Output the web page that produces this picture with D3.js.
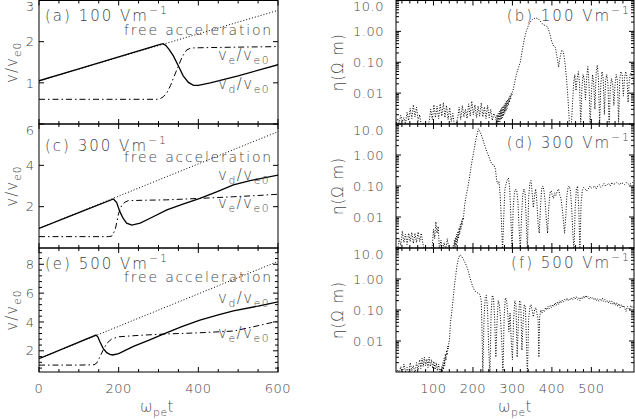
<!DOCTYPE html>
<html><head><meta charset="utf-8">
<script src="https://cdn.jsdelivr.net/npm/d3@7"></script>
<style>
body{margin:0;background:#fff}
svg{display:block}
text{font-family:"DejaVu Sans",sans-serif;fill:#474747;font-weight:300}
</style></head>
<body><svg id="c" width="635" height="419"></svg>
<script>
// ---------------- DATA ----------------
// Left column: velocities (t, v/ve0)
const vdA = [[0,1.05],[100,1.34],[200,1.63],[300,1.92],[311,1.95],[318,1.91],[326,1.82],[337,1.66],[350,1.41],[362,1.17],[375,1.01],[388,0.94],[400,0.94],[430,1.0],[500,1.17],[600,1.44]];
const veA = [[0,0.6],[100,0.6],[200,0.6],[300,0.6],[305,0.62],[312,0.66],[321,0.76],[330,0.93],[338,1.13],[350,1.41],[359,1.62],[365,1.72],[371,1.8],[380,1.84],[390,1.85],[450,1.86],[520,1.87],[600,1.88]];
const freeA = [[0,1.05],[600,2.76]];

const vdC = [[0,0.95],[100,1.71],[187,2.37],[195,2.2],[203,1.76],[211,1.44],[220,1.2],[233,1.11],[254,1.2],[279,1.44],[321,1.84],[363,2.13],[404,2.4],[446,2.72],[488,3.05],[530,3.26],[600,3.53]];
const veC = [[0,0.55],[100,0.55],[175,0.55],[183,0.58],[191,0.87],[196,1.3],[200,1.68],[208,2.08],[216,2.22],[224,2.29],[260,2.31],[321,2.33],[404,2.4],[488,2.48],[550,2.54],[600,2.6]];
const freeC = [[0,0.95],[600,5.63]];

const vdE = [[0,1.45],[70,2.25],[143,3.09],[148,2.95],[153,2.63],[161,2.17],[170,1.87],[178,1.76],[185,1.71],[200,1.8],[237,2.31],[275,2.73],[312,3.16],[360,3.7],[404,4.13],[450,4.5],[488,4.77],[550,5.1],[600,5.4]];
const veE = [[0,1.01],[100,1.01],[138,1.03],[145,1.15],[153,1.59],[161,2.05],[170,2.51],[182,2.81],[199,2.97],[250,3.07],[312,3.16],[404,3.25],[488,3.37],[537,3.66],[600,4.06]];
const freeE = [[0,1.45],[600,8.2]];

// Right column: resistivity eta (t, Ohm m)
const etaB = [[5,.0009],[9,.0015],[13,.0011],[17,.0019],[21,.0012],[25,.0016],[29,.0010],[33,.0024],[37,.0013],[41,.0032],[45,.0015],[49,.0042],[53,.0017],[57,.0035],[61,.0013],[65,.0020],[69,.0009],[73,.0011],[77,.0009],[81,.0010],[85,.0009],
[89,.0012],[93,.0030],[97,.0014],[101,.0042],[105,.0016],[109,.0038],[113,.0015],[117,.0045],[121,.0018],[125,.0050],[129,.0016],[133,.0040],[137,.0014],[141,.0034],[145,.0012],[149,.0022],[153,.0009],[157,.0010],
[161,.0015],[165,.0035],[169,.0014],[173,.0040],[177,.0017],[181,.0030],[185,.0015],[189,.0045],[193,.0018],[197,.0055],[201,.0020],[205,.0042],[209,.0016],[213,.0038],[217,.0018],[221,.0048],[225,.0017],[229,.0036],[233,.0015],[237,.0040],[241,.0016],[245,.0030],[249,.0013],[253,.0022],
[258,.0015],[259.5,.0009],[261,.002],[262.5,.001],[264,.0022],[265.5,.0011],[267,.0026],[268.5,.0012],[270,.003],[271.5,.0014],[273,.0034],[274.5,.0016],[276,.0038],[277.5,.0018],[279,.0042],[280.5,.0022],[282,.0048],[283.5,.0026],[285,.0055],[286.5,.0032],[288,.0062],[289.5,.004],[291,.0072],[292.5,.005],[294,.0085],[295.5,.0065],[297,.0098],[298.5,.0085],[300,.0112],[301.5,.012],
[305,.02],[310,.04],[315,.065],[320,.1],[325,.25],[330,.55],[335,1.0],[340,1.5],[345,2.0],[350,2.4],[355,2.6],[360,2.7],[365,2.6],[370,2.2],[375,1.8],[380,1.6],[385,1.55],[390,1.3],[395,0.8],[400,0.45],[405,0.32],[409,0.3],[413,0.15],[417,0.07],[421,0.15],[425,0.25],[429,0.22],[433,0.1],[437,0.03],[441,0.006],[445,0.0008],
[449,.0008],[452,.004],[455,.02],[458,.04],[461,.012],[464,.03],[467,.05],[470,.02],[473,.0009],[476,.015],[479,.04],[482,.028],[485,.006],[488,.03],[491,.072],[494,.02],[497,.0008],[500,.01],[503,.04],[506,.02],[509,.003],[512,.045],[515,.08],[518,.03],[521,.0009],[524,.02],[527,.05],[530,.03],[533,.002],[536,.025],[539,.04],[542,.02],[545,.0008],[548,.015],[551,.03],[554,.02],[557,.004],[560,.02],[563,.04],[566,.025],[569,.001],[572,.03],[575,.05],[578,.04],[581,.008],[584,.03],[587,.05],[590,.035],[593,.005],[596,.025],[599,.045],[602,.04],[605,.03],[608,.02]];

const etaD = [[9,.0009],[13,.0020],[17,.0012],[21,.0035],[25,.0015],[29,.0028],[33,.0013],[37,.0030],[41,.0016],[45,.0032],[49,.0014],[53,.0030],[57,.0015],[61,.0033],[65,.0016],[69,.0030],[73,.0014],[77,.0009],[81,.0009],[85,.0009],[89,.0009],[93,.0009],[97,.0012],[100,.0040],[103,.0020],[106,.0070],[109,.0030],[112,.0050],[115,.0009],[119,.0018],[123,.0009],[127,.0015],[131,.0009],[135,.0020],[139,.0009],[143,.0009],[147,.0009],
[150,.0012],[151.5,.0009],[153,.0018],[154.5,.001],[156,.0022],[157.5,.0012],[159,.0028],[160.5,.0015],[162,.0035],[163.5,.002],[165,.0045],[166.5,.0028],[168,.0058],[169.5,.004],[171,.0075],[172.5,.0055],[174,.0095],[175.5,.008],[177,.013],
[179,.025],[183,.05],[187,.09],[191,.18],[195,.4],[199,.8],[203,1.5],[207,3.0],[211,5.0],[214,7.0],[217,6.0],[221,4.5],[225,3.2],[230,2.0],[235,1.3],[240,0.9],[245,0.6],[249,0.5],[253,0.48],[257,.35],[260,.15],[263,.12],[266,.14],[269,.05],[272,.008],[275,.0008],[278,.01],[281,.08],[284,.12],[287,.16],[290,.18],[293,.09],[296,.01],[299,.0008],[302,.02],[305,.06],[308,.08],[311,.07],[314,.03],[317,.004],[320,.0008],[323,.01],[326,.05],[329,.08],[332,.06],[335,.008],[338,.0008],[341,.04],[344,.12],[347,.15],[350,.06],[353,.02],[356,.05],[359,.08],[362,.03],[365,.006],[368,.003],[371,.02],[374,.08],[377,.1],[380,.07],[383,.03],[386,.008],[389,.003],[392,.02],[395,.06],[398,.07],[401,.05],[404,.04],[407,.06],[410,.05],[414,.07],[417,.08],[420,.05],[423,.04],[426,.02],[429,.008],[432,.003],[435,.01],[438,.05],[441,.09],[444,.1],[447,.07],[450,.02],[453,.003],[456,.0008],[459,.02],[462,.08],[465,.1],[468,.02],[471,.0008],[474,.03],[477,.07],[480,.09],[484,.08],[488,.07],[492,.08],[496,.1],[500,.085],[504,.09],[508,.1],[512,.08],[516,.1],[520,.11],[524,.09],[528,.1],[532,.12],[536,.1],[540,.11],[544,.12],[548,.1],[552,.13],[556,.11],[560,.12],[564,.13],[568,.12],[572,.11],[576,.13],[580,.12],[584,.11],[588,.13],[592,.12],[596,.11],[600,.12],[604,.13],[608,.12]];

const etaF = [[5,.0009],[9,.0012],[13,.0009],[17,.0015],[21,.0009],[25,.0018],[29,.0010],[33,.0014],[37,.0009],[41,.0020],[45,.0011],[49,.0016],[53,.0009],[57,.0020],[61,.0012],[65,.0025],[68,.0013],[71,.0028],[74,.0015],[77,.0030],[80,.0016],[83,.0026],[86,.0014],[89,.0030],[92,.0015],[95,.0025],[98,.0013],[101,.0022],[104,.0012],[107,.0020],[110,.0011],[113,.0018],[116,.0010],
[118,.0012],[119.5,.0009],[121,.0015],[122.5,.001],[124,.002],[125.5,.0012],[127,.0028],[128.5,.0016],[130,.0038],[131.5,.0024],[133,.005],[134.5,.0035],[136,.0068],[137.5,.0055],[139,.009],[140.5,.011],
[143,.04],[147,.1],[150,.25],[153,.6],[156,1.2],[159,2.5],[163,4.5],[167,6],[171,5.5],[175,4.5],[179,3.5],[183,2.8],[187,2],[191,1.3],[195,.85],[199,.6],[203,.45],[207,.38],[211,.36],[215,.35],[218,.3],
[221,.2],[223,.02],[225,.0008],[228,.05],[231,.25],[234,.3],[237,.1],[240,.005],[243,.0008],[246,.08],[249,.3],[252,.25],[255,.05],[258,.003],[261,.04],[264,.2],[267,.15],[270,.05],[273,.01],[276,.0008],[279,.06],[282,.25],[285,.22],[288,.08],[291,.02],[294,.08],[297,.01],[300,.0025],[303,.05],[306,.2],[309,.15],[312,.003],[315,.04],[318,.2],[321,.18],[324,.005],[327,.04],[330,.15],[333,.12],[336,.005],[338,.0008],[341,.05],[344,.12],[347,.15],[350,.1],[353,.06],[356,.1],[359,.12],[362,.08],[365,.05],[367,.003],[369,.06],[372,.1],[375,.08],[378,.1],[381,.09],[384,.12],[387,.1],[390,.13],[393,.11],[396,.14],[399,.12],[402,.15],[405,.13],[408,.17],[411,.14],[414,.18],[417,.15],[420,.2],[423,.17],[426,.21],[429,.18],[432,.22],[435,.2],[438,.24],[441,.2],[444,.23],[447,.21],[450,.25],[453,.22],[456,.26],[459,.23],[462,.27],[465,.22],[468,.25],[471,.2],[474,.26],[477,.23],[480,.28],[483,.24],[486,.3],[489,.25],[492,.27],[495,.22],[498,.26],[501,.24],[504,.25],[507,.21],[510,.24],[513,.2],[516,.23],[519,.19],[522,.22],[525,.2],[528,.24],[531,.19],[534,.22],[537,.18],[540,.2],[543,.17],[546,.2],[549,.16],[552,.19],[555,.15],[558,.18],[561,.14],[564,.17],[567,.13],[570,.16],[573,.12],[576,.15],[579,.12],[582,.14],[585,.11],[588,.09],[591,.13],[594,.12],[597,.1],[600,.14],[603,.12],[606,.13],[608,.12]];

// Tick values / labels
const leftXTicks = [0,200,400,600];
const rightXTicks = [100,200,300,400,500];
const yTicksA = [1,2,3];
const yTicksC = [2,4,6];
const yTicksE = [2,4,6,8];
const etaTicks = [10,1,0.1,0.01];
const etaTickLabels = ["10.0","1.00","0.10","0.01"];
const fields = ["100","300","500"];
const leftLetters = ["(a)","(c)","(e)"];
const rightLetters = ["(b)","(d)","(f)"];

// ---------------- LAYOUT ----------------
const svg = d3.select("#c");
const rows = [[0.5,124],[124,248],[248,372]];
const xL = d3.scaleLinear().domain([0,600]).range([39,278]);
const xR = d3.scaleLinear().domain([5,608]).range([396,634]);
const ink = "#000";
let clipN = 0;

function clip(x0,y0,x1,y1){
  const id = "cp"+(clipN++);
  svg.append("clipPath").attr("id",id).append("rect")
    .attr("x",x0).attr("y",y0).attr("width",x1-x0).attr("height",y1-y0);
  return "url(#"+id+")";
}

function frame(xs, ys, xMaj, xMin, yMaj, yMin){
  const [x0,x1] = xs.range(); const [y1,y0] = ys.range();
  const g = svg.append("g").attr("stroke",ink).attr("stroke-width",1).attr("fill","none");
  g.append("rect").attr("x",x0).attr("y",y0).attr("width",x1-x0).attr("height",y1-y0);
  const tick = (v,len,axis)=>{
    if(axis==="x"){ const p=xs(v);
      g.append("line").attr("x1",p).attr("x2",p).attr("y1",y1).attr("y2",y1-len);
      g.append("line").attr("x1",p).attr("x2",p).attr("y1",y0).attr("y2",y0+len);
    } else { const p=ys(v);
      g.append("line").attr("y1",p).attr("y2",p).attr("x1",x0).attr("x2",x0+len);
      g.append("line").attr("y1",p).attr("y2",p).attr("x1",x1).attr("x2",x1-len);
    }
  };
  xMaj.forEach(v=>tick(v,5,"x")); xMin.forEach(v=>tick(v,3,"x"));
  yMaj.forEach(v=>tick(v,5,"y")); yMin.forEach(v=>tick(v,3,"y"));
}

function addLabel(x,y,parts,anchor,size,ls){
  const t = svg.append("text").attr("x",x).attr("y",y).attr("font-size",size)
    .attr("text-anchor",anchor||"start").attr("letter-spacing",ls==null?1:ls);
  parts.forEach(p=>{
    const s = t.append("tspan").text(p[0]);
    if(p[1]==="sub") s.attr("dy",4).attr("font-size",size*0.72);
    if(p[1]==="sup") s.attr("dy",-7).attr("font-size",size*0.72);
    if(p[1]==="back") s.attr("dy",-4);
  });
  return t;
}

const dotted = "1,2", dashdot = "6,3,1.5,3";
const line = (xs,ys)=> d3.line().x(d=>xs(d[0])).y(d=>ys(d[1]));

// ---------------- LEFT COLUMN ----------------
const leftCfg = [
  {dom:[0,3], yt:yTicksA, ym:[], vd:vdA, ve:veA, fr:freeA, lab:20.7, fa:35, vdY:89, veY:60},
  {dom:[0,6], yt:yTicksC, ym:[], vd:vdC, ve:veC, fr:freeC, lab:150.7, fa:161.7, vdY:180, veY:208},
  {dom:[0.53,9.13], yt:yTicksE, ym:d3.range(0.8,9.1,0.4).filter(v=>Math.abs(v/2-Math.round(v/2))>0.01), vd:vdE, ve:veE, fr:freeE, lab:268.5, fa:281.5, vdY:303, veY:338}
];
const xMinL = d3.range(50,600,50).filter(v=>v%200!==0);
leftCfg.forEach((c,i)=>{
  const [top,bot] = rows[i];
  const y = d3.scaleLinear().domain(c.dom).range([bot,top]);
  const cp = clip(39,top,278,bot);
  const g = svg.append("g").attr("clip-path",cp).attr("fill","none").attr("stroke",ink);
  g.append("path").datum(c.fr).attr("d",line(xL,y)).attr("stroke-width",1).attr("stroke-dasharray",dotted);
  g.append("path").datum(c.ve).attr("d",line(xL,y)).attr("stroke-width",1).attr("stroke-dasharray",dashdot);
  g.append("path").datum(c.vd).attr("d",line(xL,y)).attr("stroke-width",1.3);
  frame(xL,y,leftXTicks,xMinL,c.yt,c.ym);
  c.yt.forEach(v=>{
    svg.append("text").attr("x",34).attr("y",Math.max(y(v),top+6)).attr("dy","0.36em")
      .attr("text-anchor","end").attr("font-size",13).text(v);
  });
  addLabel(45,c.lab,[[leftLetters[i]+" "+fields[i]+" Vm"],["−1","sup"]],"start",15,2);
  addLabel(273,c.fa,[["free acceleration"]],"end",14,1.8);
  addLabel(218,c.vdY,[["v"],["d","sub"],["/v","back"],["e0","sub"]],"start",15,1.5);
  addLabel(218,c.veY,[["v"],["e","sub"],["/v","back"],["e0","sub"]],"start",15,1.5);
  addLabel(12,(top+bot)/2,[["v/v"],["e0","sub"]],"middle",15,1)
    .attr("transform",`rotate(-90,12,${(top+bot)/2})`).attr("dy",5);
});
leftXTicks.forEach(v=>svg.append("text").attr("x",xL(v)).attr("y",393).attr("text-anchor","middle")
  .attr("font-size",13).attr("letter-spacing",0.5).text(v));
addLabel(157,412,[["ω"],["pe","sub"],["t","back"]],"middle",15,0.5);

// ---------------- RIGHT COLUMN ----------------
const etas = [etaB, etaD, etaF];
const logMinor = [];
[0.001,0.01,0.1,1].forEach(d=>{ for(let k=2;k<=9;k++) logMinor.push(d*k); });
const xMinR = d3.range(20,608,20).filter(v=>v%100!==0);
const labR = [21, 148, 268];
etas.forEach((e,i)=>{
  const [top,bot] = rows[i];
  const y = d3.scaleLog().domain([0.001,10]).range([bot,top]);
  const cp = clip(396,top,634,bot);
  svg.append("g").attr("clip-path",cp).append("path").datum(e)
    .attr("d",line(xR,y)).attr("fill","none").attr("stroke",ink).attr("stroke-width",1)
    .attr("stroke-dasharray","1,1.6");
  frame(xR,y,rightXTicks,xMinR,etaTicks,logMinor);
  etaTicks.forEach((v,j)=>{
    svg.append("text").attr("x",384).attr("y",Math.max(y(v),top+6)).attr("dy","0.36em")
      .attr("text-anchor","end").attr("font-size",13).attr("letter-spacing",0.5).text(etaTickLabels[j]);
  });
  addLabel(631,labR[i],[[rightLetters[i]+" "+fields[i]+" Vm"],["−1","sup"]],"end",15,2);
  addLabel(338,(top+bot)/2,[["η(Ω m)"]],"middle",15,1)
    .attr("transform",`rotate(-90,338,${(top+bot)/2})`).attr("dy",5);
});
rightXTicks.forEach(v=>svg.append("text").attr("x",xR(v)).attr("y",393).attr("text-anchor","middle")
  .attr("font-size",13).attr("letter-spacing",0.5).text(v));
addLabel(515,412,[["ω"],["pe","sub"],["t","back"]],"middle",15,0.5);
</script>
</body></html>
